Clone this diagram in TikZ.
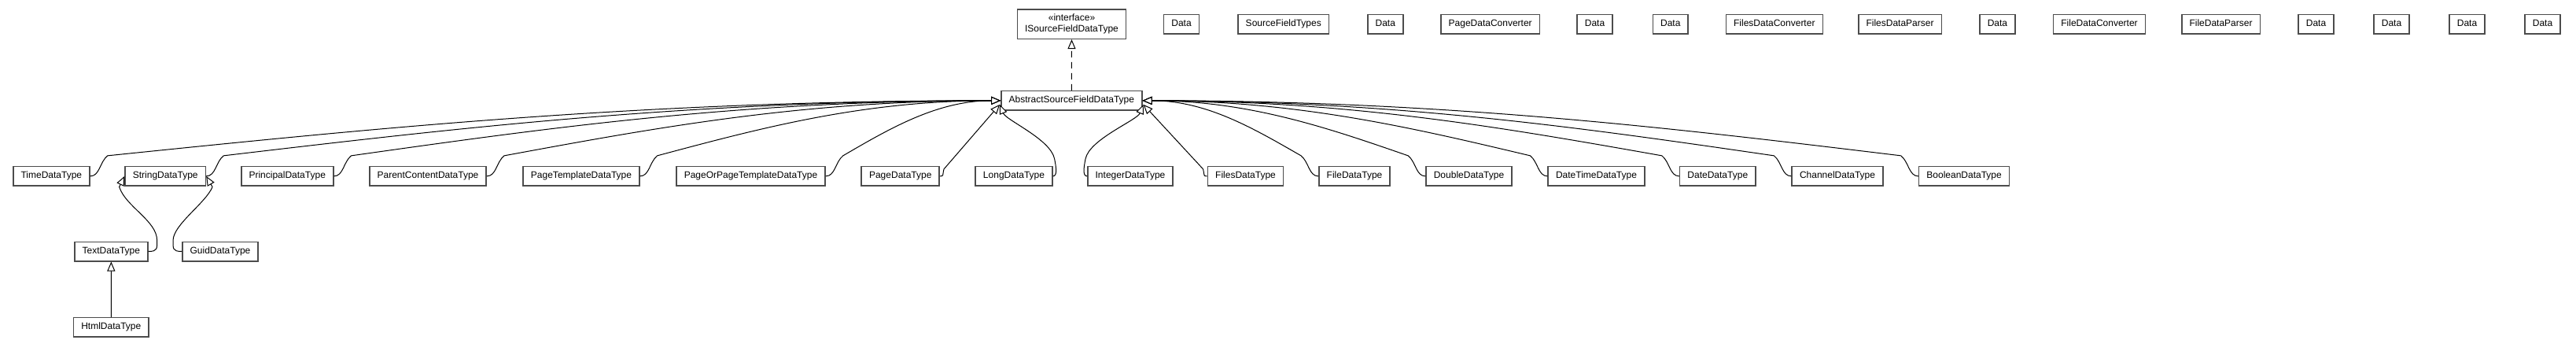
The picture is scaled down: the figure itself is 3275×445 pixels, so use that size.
\documentclass[tikz,border=0pt]{standalone}
\usepackage{fontspec}
\setmainfont{Liberation Sans}
\usetikzlibrary{arrows.meta,calc}
\tikzset{
  cls/.style={draw=black!70, line width=1.6pt, fill=white,
    font=\fontsize{12}{14.5}\selectfont, inner xsep=9.8pt, inner ysep=0pt,
    minimum height=24.4pt, text height=8.8pt, text depth=2.6pt},
  iface/.style={draw=black!70, line width=1.6pt, fill=white,
    font=\fontsize{12}{14.5}\selectfont, inner xsep=9.8pt, inner ysep=0pt,
    minimum height=37.6pt, align=center},
  inh/.style={draw=black, line width=1pt, -{Triangle[fill=white, length=12pt, width=10pt]}},
  realiz/.style={inh, dash pattern=on 8pt off 6pt}
}
\begin{document}
\begin{tikzpicture}[x=1pt, y=-1pt]
\fill[white] (0,0) rectangle (3275,445);
\useasboundingbox (0,0) rectangle (3275,445);

% top row
\node[iface] (I) at (1362.5,30.5) {«interface»\\ISourceFieldDataType};
\node[cls] (D1) at (1502,30.5) {Data};
\node[cls] (SFT) at (1631.75,30.5) {SourceFieldTypes};
\node[cls] (D2) at (1761.3,30.5) {Data};
\node[cls] (PDC) at (1894.7,30.5) {PageDataConverter};
\node[cls] (D3) at (2027.5,30.5) {Data};
\node[cls] (D4) at (2123.75,30.5) {Data};
\node[cls] (FsDC) at (2255.8,30.5) {FilesDataConverter};
\node[cls] (FsDP) at (2415.5,30.5) {FilesDataParser};
\node[cls] (D5) at (2539.4,30.5) {Data};
\node[cls] (FiDC) at (2669,30.5) {FileDataConverter};
\node[cls] (FiDP) at (2823.5,30.5) {FileDataParser};
\node[cls] (D6) at (2944.5,30.5) {Data};
\node[cls] (D7) at (3040.5,30.5) {Data};
\node[cls] (D8) at (3136.5,30.5) {Data};
\node[cls] (D9) at (3232.5,30.5) {Data};

% abstract
\node[cls] (A) at (1362.35,127.85) {AbstractSourceFieldDataType};

% second row
\node[cls] (T) at (65.35,223.85) {TimeDataType};
\node[cls] (S) at (210.25,223.85) {StringDataType};
\node[cls] (Pr) at (365.25,223.85) {PrincipalDataType};
\node[cls] (PC) at (544,223.85) {ParentContentDataType};
\node[cls] (PT) at (739,223.85) {PageTemplateDataType};
\node[cls] (POPT) at (954.5,223.85) {PageOrPageTemplateDataType};
\node[cls] (PD) at (1144.75,223.85) {PageDataType};
\node[cls] (L) at (1289,223.85) {LongDataType};
\node[cls] (In) at (1437,223.85) {IntegerDataType};
\node[cls] (Fs) at (1583.5,223.85) {FilesDataType};
\node[cls] (Fi) at (1722,223.85) {FileDataType};
\node[cls] (Do) at (1867.5,223.85) {DoubleDataType};
\node[cls] (DT) at (2029.5,223.85) {DateTimeDataType};
\node[cls] (Da) at (2183.8,223.85) {DateDataType};
\node[cls] (Ch) at (2336,223.85) {ChannelDataType};
\node[cls] (Bo) at (2497.1,223.85) {BooleanDataType};

% third / fourth rows
\node[cls] (Tx) at (141.35,319.5) {TextDataType};
\node[cls] (G) at (280,319.5) {GuidDataType};
\node[cls] (H) at (141.3,415.8) {HtmlDataType};

\coordinate (Al) at ($(A.west)+(-1,5)$);
\coordinate (Ar) at ($(A.east)+(1,5)$);

% realization
\draw[realiz] (A.north) -- (I.south);

% left children
\draw[inh] (T.east) .. controls +(12,0) and +(-10,8) .. ++(22,-26) .. controls +(341,-35) and +(-454,0) .. (A.west);
\draw[inh] (S.east) .. controls +(12,0) and +(-10,8) .. ++(22,-26) .. controls +(297,-35) and +(-396,0) .. (A.west);
\draw[inh] (Pr.east) .. controls +(12,0) and +(-10,8) .. ++(22,-26) .. controls +(248,-35) and +(-331,0) .. (A.west);
\draw[inh] (PC.east) .. controls +(12,0) and +(-10,8) .. ++(22,-26) .. controls +(190,-35) and +(-253,0) .. (A.west);
\draw[inh] (PT.east) .. controls +(12,0) and +(-10,8) .. ++(22,-26) .. controls +(131,-35) and +(-175,0) .. (A.west);
\draw[inh] (POPT.east) .. controls +(12,0) and +(-10,8) .. ++(22,-26) .. controls +(60,-35) and +(-80,0) .. (A.west);
\draw[inh] (PD.east) .. controls +(5,0) and +(-2,8) .. ++(5,-9) -- (Al);
\draw[inh] (L.east) .. controls +(6,0) and +(2,10) .. ++(2,-22) .. controls +(-5,-25) and +(8,20) .. (Al);

% right children
\draw[inh] (In.west) .. controls +(-6,0) and +(-2,10) .. ++(-2,-22) .. controls +(5,-25) and +(-8,20) .. (Ar);
\draw[inh] (Fs.west) .. controls +(-5,0) and +(2,8) .. ++(-5,-9) -- (Ar);
\draw[inh] (Fi.west) .. controls +(-12,0) and +(10,8) .. ++(-22,-26) .. controls +(-61,-35) and +(81,0) .. (A.east);
\draw[inh] (Do.west) .. controls +(-12,0) and +(10,8) .. ++(-22,-26) .. controls +(-101,-35) and +(135,0) .. (A.east);
\draw[inh] (DT.west) .. controls +(-12,0) and +(10,8) .. ++(-22,-26) .. controls +(-148,-35) and +(198,0) .. (A.east);
\draw[inh] (Da.west) .. controls +(-12,0) and +(10,8) .. ++(-22,-26) .. controls +(-198,-35) and +(265,0) .. (A.east);
\draw[inh] (Ch.west) .. controls +(-12,0) and +(10,8) .. ++(-22,-26) .. controls +(-241,-35) and +(321,0) .. (A.east);
\draw[inh] (Bo.west) .. controls +(-12,0) and +(10,8) .. ++(-22,-26) .. controls +(-290,-35) and +(386,0) .. (A.east);

% string subclasses
\draw[inh] (Tx.east) .. controls +(12,0) and +(0,10) .. ++(11,-14) .. controls +(0,-25) and +(8,25) .. ++(-48,-68) -- (S.west);
\draw[inh] (G.west) .. controls +(-12,0) and +(0,10) .. ++(-11,-14) .. controls +(0,-20) and +(-8,20) .. ++(50,-68) -- (S.east);
\draw[inh] (H.north) -- (Tx.south);
\end{tikzpicture}
\end{document}
